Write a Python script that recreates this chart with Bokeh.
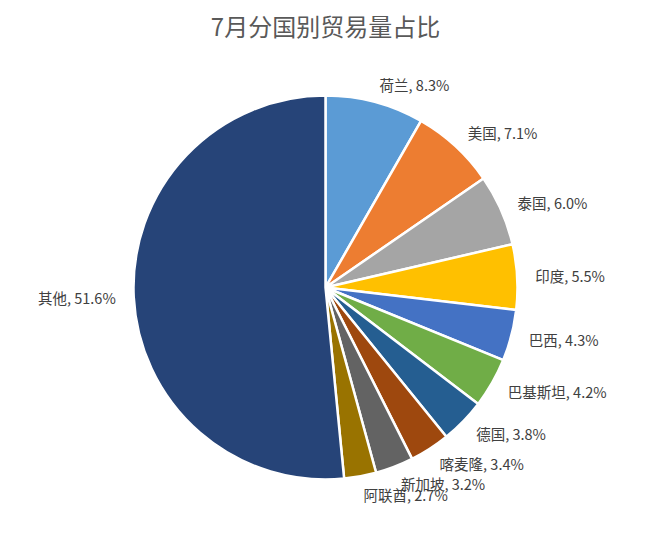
import numpy as np
from bokeh.plotting import figure
from bokeh.models import Range1d, ColumnDataSource
from bokeh.core.properties import value
from bokeh.embed import file_html
from bokeh.resources import INLINE

title_text = "7月分国别贸易量占比"
countries = ["荷兰", "美国", "泰国", "印度", "巴西", "巴基斯坦", "德国", "喀麦隆", "新加坡", "阿联酋", "其他"]
shares = [8.3, 7.1, 6.0, 5.5, 4.3, 4.2, 3.8, 3.4, 3.2, 2.7, 51.6]
colors = ["#5B9BD5", "#ED7D31", "#A5A5A5", "#FFC000", "#4472C4", "#70AD47",
          "#255E91", "#9E480E", "#636363", "#997300", "#264478"]

FONT = "Noto Sans CJK SC"
W, H = 647, 517
cx, cy, R = 325, 533 - 287, 192

vals = np.array(shares, dtype=float)
frac = vals / vals.sum()
cum_end = np.cumsum(frac)
cum_start = cum_end - frac
start = np.pi / 2 - cum_start * 2 * np.pi
end = np.pi / 2 - cum_end * 2 * np.pi
mid = (start + end) / 2

p = figure(width=W, height=H, output_backend="svg", toolbar_location=None,
           x_range=Range1d(0, W), y_range=Range1d(533 - H, 533),
           min_border=0, outline_line_color=None)
p.axis.visible = False
p.grid.visible = False
p.background_fill_color = "white"
p.border_fill_color = "white"

src = ColumnDataSource(dict(start=start, end=end, color=colors))
p.wedge(x=cx, y=cy, radius=R, start_angle="start", end_angle="end", direction="clock",
        fill_color="color", line_color="white", line_width=2.5, source=src)

rl = R + 18
lx = cx + rl * np.cos(mid)
ly = cy + rl * np.sin(mid)
align = ["left" if np.cos(m) >= 0 else "right" for m in mid]
labels = [f"{c}, {s:.1f}%" for c, s in zip(countries, shares)]
lsrc = ColumnDataSource(dict(x=lx, y=ly, t=labels, a=align))
p.text(x="x", y="y", text="t", text_align="a", text_baseline="middle",
       text_font=value(FONT), text_font_size="14.5px", text_color="#404040", source=lsrc)

p.text(x=[cx], y=[533 - 25], text=[title_text], text_align="center", text_baseline="middle",
       text_font=value(FONT), text_font_size="24px", text_color="#595959")

open("out.html", "w").write(file_html(p, INLINE))
